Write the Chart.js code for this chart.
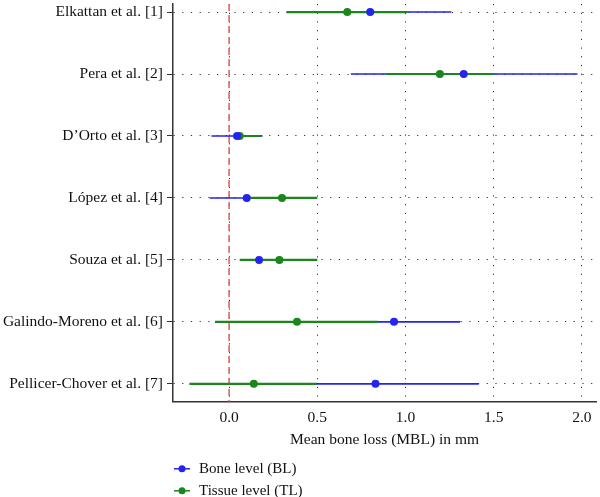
<!DOCTYPE html>
<html>
<head>
<meta charset="utf-8">
<script src="https://cdn.jsdelivr.net/npm/chart.js@4.4.0/dist/chart.umd.min.js"></script>
<style>
  html, body { margin: 0; padding: 0; background: #fff; }
  #wrap { width: 600px; height: 497px; }
</style>
</head>
<body>
<div id="wrap"><canvas id="forest" width="600" height="497"></canvas></div>
<script>
// studies, top to bottom
var studies = ['Elkattan et al. [1]', 'Pera et al. [2]', 'D\u2019Orto et al. [3]', 'L\u00f3pez et al. [4]',
               'Souza et al. [5]', 'Galindo-Moreno et al. [6]', 'Pellicer-Chover et al. [7]'];

// bone level (BL): mean and interval
var blMean = [0.80, 1.33, 0.045, 0.10, 0.17, 0.935, 0.83];
var blLow  = [0.34, 0.69, -0.10, -0.11, 0.08, 0.56, 0.245];
var blHigh = [1.26, 1.975, 0.19, 0.31, 0.26, 1.31, 1.415];

// tissue level (TL): mean and interval
var tlMean = [0.67, 1.195, 0.06, 0.30, 0.285, 0.385, 0.14];
var tlLow  = [0.325, 0.89, 0.03, 0.10, 0.06, -0.08, -0.225];
var tlHigh = [1.01, 1.50, 0.18, 0.50, 0.50, 0.845, 0.495];

var xTicks = [0, 0.5, 1.0, 1.5, 2.0];
var refValue = 0;

var FONT = "'Liberation Serif', 'Times New Roman', serif";
var BLUE = '#2424f0';
var GREEN = '#1b861b';
var TEXT = '#111';

function ciSegments(low, high){
    var pts = [];
    for (var i = 0; i < low.length; i++){
        pts.push({x: low[i], y: i});
        pts.push({x: high[i], y: i});
        pts.push({x: null, y: null});   // break the line
    }
    return pts;
}

function meanPoints(mean){
    return mean.map(function(v, i){ return {x: v, y: i}; });
}

// dashed reference line at zero
var refLine = {
    id: 'refLine',
    beforeDatasetsDraw: function(chart){
        var ctx = chart.ctx, area = chart.chartArea;
        var x = chart.scales.x.getPixelForValue(refValue);
        ctx.save();
        ctx.strokeStyle = '#e05a5a';
        ctx.lineWidth = 1.5;
        ctx.setLineDash([7, 4]);
        ctx.beginPath();
        ctx.moveTo(x, area.top);
        ctx.lineTo(x, area.bottom);
        ctx.stroke();
        ctx.restore();
    }
};

// vertical key under the plot, line + dot like the markers
var seriesKey = {
    id: 'seriesKey',
    afterDraw: function(chart){
        var ctx = chart.ctx;
        var x0 = chart.chartArea.left;
        var y = chart.chartArea.bottom + 67;
        var items = chart.data.datasets.filter(function(d){ return d.keyRank !== undefined; })
            .sort(function(a, b){ return a.keyRank - b.keyRank; });
        ctx.save();
        items.forEach(function(d){
            ctx.strokeStyle = d.backgroundColor;
            ctx.fillStyle = d.backgroundColor;
            ctx.lineWidth = 1.5;
            ctx.beginPath();
            ctx.moveTo(x0 + 1, y);
            ctx.lineTo(x0 + 17, y);
            ctx.stroke();
            ctx.beginPath();
            ctx.arc(x0 + 9, y, 3.5, 0, Math.PI * 2);
            ctx.fill();
            ctx.fillStyle = TEXT;
            ctx.font = '15px ' + FONT;
            ctx.textBaseline = 'middle';
            ctx.textAlign = 'left';
            ctx.fillText(d.label, x0 + 26, y);
            y += 22;
        });
        ctx.restore();
    }
};

var ctx = document.getElementById('forest').getContext('2d');
var chart = new Chart(ctx, {
    type: 'scatter',
    data: {
        datasets: [
            {
                label: 'BL interval', data: ciSegments(blLow, blHigh), showLine: true,
                borderColor: BLUE, borderWidth: 1.6, pointRadius: 0, spanGaps: false, order: 4
            },
            {
                label: 'TL interval', data: ciSegments(tlLow, tlHigh), showLine: true,
                borderColor: GREEN, borderWidth: 2.2, pointRadius: 0, spanGaps: false, order: 3
            },
            {
                label: 'Tissue level (TL)', data: meanPoints(tlMean), showLine: false,
                backgroundColor: GREEN, borderColor: GREEN, pointRadius: 4, borderWidth: 0, order: 2, keyRank: 2
            },
            {
                label: 'Bone level (BL)', data: meanPoints(blMean), showLine: false,
                backgroundColor: BLUE, borderColor: BLUE, pointRadius: 4, borderWidth: 0, order: 1, keyRank: 1
            }
        ]
    },
    options: {
        responsive: false,
        devicePixelRatio: 1,
        animation: false,
        layout: { padding: { top: 0, right: 0, bottom: 48, left: 0 } },
        plugins: {
            legend: { display: false },
            tooltip: { enabled: false }
        },
        scales: {
            x: {
                type: 'linear', min: -0.318, max: 2.08,
                afterBuildTicks: function(scale){
                    scale.ticks = xTicks.map(function(v){ return {value: v}; });
                },
                afterFit: function(scale){ scale.paddingLeft = 0; scale.paddingRight = 0; },
                ticks: {
                    callback: function(v){ return Number(v).toFixed(1); },
                    color: TEXT, font: { family: FONT, size: 15.5 }, padding: 7
                },
                grid: { color: '#333', lineWidth: 1, drawTicks: false },
                border: { display: true, color: '#333', width: 1.5, dash: [1.2, 7.5] },
                title: {
                    display: true, text: 'Mean bone loss (MBL) in mm', color: TEXT,
                    font: { family: FONT, size: 15.5 }, padding: { top: -4, bottom: 0 }
                }
            },
            y: {
                type: 'linear', reverse: true, min: -0.13, max: 6.29,
                afterBuildTicks: function(scale){
                    scale.ticks = studies.map(function(s, i){ return {value: i}; });
                },
                afterFit: function(scale){
                    scale.width = 173;
                    scale.paddingTop = 0;
                    scale.paddingBottom = 0;
                },
                ticks: {
                    callback: function(v){ return studies[v]; },
                    color: TEXT, font: { family: FONT, size: 15.5 }, padding: 4, autoSkip: false
                },
                grid: { color: '#333', lineWidth: 1, tickLength: 6, tickColor: '#333', tickBorderDash: [] },
                border: { display: true, color: '#333', width: 1.5, dash: [1.2, 7.5] }
            }
        }
    },
    plugins: [refLine, seriesKey]
});
</script>
</body>
</html>
